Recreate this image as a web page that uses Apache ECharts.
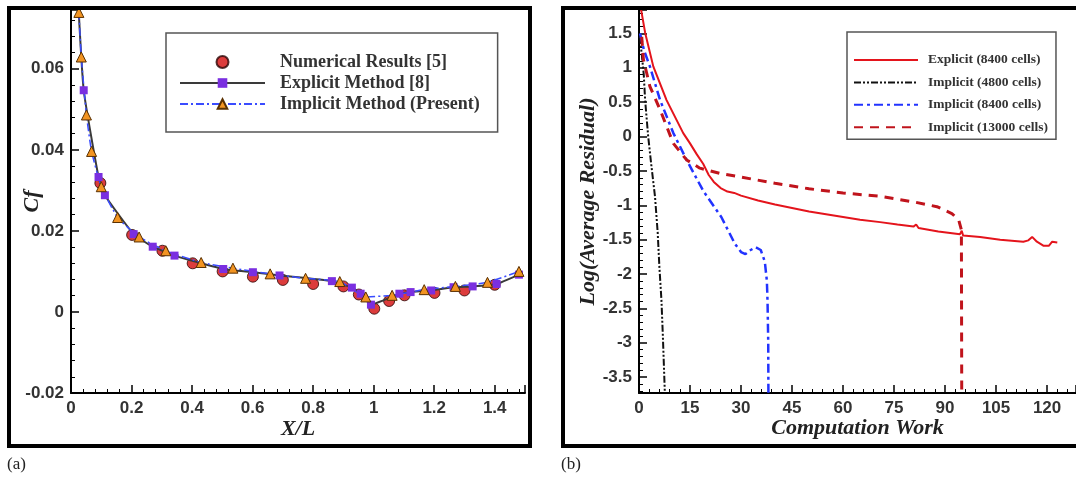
<!DOCTYPE html>
<html>
<head>
<meta charset="utf-8">
<script src="https://cdn.jsdelivr.net/npm/echarts@6.0.0/dist/echarts.min.js"></script>
<style>
html, body { margin: 0; padding: 0; background: #fff; }
#chart { width: 1076px; height: 479px; }
</style>
</head>
<body>
<div id="chart"></div>
<script>
// (a) skin friction along the wall
var numericalPts = [[0.097,0.0318],[0.202,0.019],[0.302,0.0151],[0.402,0.012],[0.501,0.010],[0.601,0.0087],[0.70,0.0079],[0.80,0.0069],[0.90,0.0063],[0.951,0.0043],[1.002,0.0008],[1.051,0.0027],[1.102,0.0041],[1.201,0.0047],[1.30,0.0053],[1.40,0.0067]];
var explicitHead = [0.022,0.079];
var explicitPts = [[0.042,0.0547],[0.091,0.0333],[0.112,0.0288],[0.207,0.0192],[0.27,0.0161],[0.342,0.0139],[0.503,0.0106],[0.601,0.0098],[0.689,0.009],[0.862,0.0076],[0.928,0.006],[0.957,0.0045],[0.991,0.0018],[1.085,0.0045],[1.122,0.0049],[1.19,0.0053],[1.264,0.0061],[1.327,0.0063],[1.406,0.0069],[1.48,0.0092]];
var implicitHead = [0.023,0.078];
var implicitPts = [[0.026,0.0739],[0.034,0.0629],[0.051,0.0486],[0.068,0.0396],[0.10,0.0309],[0.154,0.0233],[0.225,0.0185],[0.313,0.0151],[0.43,0.0122],[0.535,0.0108],[0.658,0.0094],[0.775,0.0083],[0.888,0.0075],[0.974,0.0037],[1.061,0.0041],[1.167,0.0055],[1.27,0.0063],[1.376,0.0073],[1.48,0.0100]];

// (b) convergence history
var explicit8400 = [[0.6,1.85],[1.8,1.51],[4.2,1.02],[8.1,0.53],[13,0.05],[15,-0.1],[17,-0.26],[18.9,-0.4],[20.5,-0.56],[22,-0.66],[24,-0.75],[26,-0.8],[28,-0.82],[30,-0.86],[35,-0.93],[40,-0.99],[45,-1.04],[50,-1.09],[55,-1.13],[60,-1.17],[65,-1.21],[70.9,-1.245],[76,-1.28],[80.7,-1.31],[81.5,-1.28],[82.2,-1.33],[88,-1.38],[94.4,-1.42],[94.9,-1.37],[95.3,-1.44],[100.3,-1.46],[106.2,-1.5],[113,-1.53],[114.5,-1.51],[115.6,-1.46],[117,-1.53],[119,-1.59],[120.5,-1.59],[121.5,-1.53],[123,-1.54]];
var implicit4800 = [[0.2,1.45],[0.8,1.2],[1.4,0.9],[1.8,0.53],[2.7,0.0],[3.7,-0.45],[4.7,-0.87],[5.5,-1.4],[6.0,-1.9],[6.6,-2.38],[7.0,-2.88],[7.3,-3.3],[7.6,-3.73]];
var implicit8400 = [[0.3,1.5],[1.5,1.25],[3.2,1.02],[6.2,0.53],[10.1,0.05],[14,-0.34],[19,-0.8],[24.2,-1.17],[28.2,-1.56],[30,-1.68],[31.3,-1.71],[32.5,-1.66],[34.3,-1.61],[35.8,-1.65],[37,-1.82],[37.6,-2.1],[37.8,-2.4],[38,-3.0],[38.05,-3.73]];
var implicit13000 = [[0.8,1.45],[1.3,1.12],[3.2,0.73],[6.2,0.39],[10.1,-0.1],[14,-0.34],[17.9,-0.46],[24,-0.54],[30,-0.59],[40,-0.68],[50,-0.76],[60,-0.82],[70.9,-0.87],[80.7,-0.95],[87.6,-1.02],[92,-1.12],[94,-1.21],[94.8,-1.36],[94.9,-3.73]];

var namesA = ['Numerical Results [5]', 'Explicit Method [8]', 'Implicit Method (Present)'];
var namesB = ['Explicit (8400 cells)', 'Implicit (4800 cells)', 'Implicit (8400 cells)', 'Implicit (13000 cells)'];

var chart = echarts.init(document.getElementById('chart'));

var tickFont = { fontFamily: 'Liberation Sans', fontWeight: 'bold', fontSize: 17, color: '#333' };
var nameFont = { fontFamily: 'Liberation Serif', fontStyle: 'italic', fontWeight: 'bold', fontSize: 22, color: '#222' };

// common look of the Tecplot-like axes
function axis(extra) {
	var base = {
		type: 'value',
		nameLocation: 'middle',
		nameMoveOverlap: false,
		nameTextStyle: nameFont,
		axisLine: { show: true, onZero: false, lineStyle: { color: '#000', width: 2 } },
		axisTick: { inside: true, length: 8, lineStyle: { color: '#000', width: 1.5 } },
		minorTick: { show: true, splitNumber: 5, length: 4, lineStyle: { color: '#000', width: 1 } },
		splitLine: { show: false },
		axisLabel: Object.assign({ margin: 7 }, tickFont)
	};
	for (var k in extra) {
		if (k === 'axisLabel') Object.assign(base.axisLabel, extra[k]);
		else base[k] = extra[k];
	}
	return base;
}

chart.setOption({
	backgroundColor: '#fff',
	animation: false,
	grid: [
		{ left: 71, top: 10, width: 454, height: 383 },
		{ left: 639, top: 10, width: 437, height: 383 }
	],
	xAxis: [
		axis({ gridIndex: 0, min: 0, max: 1.5, interval: 0.2, name: 'X/L', nameGap: 25, axisLabel: { showMaxLabel: false } }),
		axis({ gridIndex: 1, min: 0, max: 128.5, interval: 15, name: 'Computation Work', nameGap: 24, axisLabel: { showMaxLabel: false } })
	],
	yAxis: [
		axis({ gridIndex: 0, min: -0.02, max: 0.0745, interval: 0.02, name: 'Cf', nameGap: 28, axisLabel: { showMaxLabel: false } }),
		axis({ gridIndex: 1, min: -3.73, max: 1.84, minInterval: 0.5, maxInterval: 0.5, splitNumber: 11, name: 'Log(Average Residual)', nameGap: 40,
			axisLabel: { showMinLabel: false, showMaxLabel: false } })
	],
	legend: [
		{
			data: namesA, orient: 'vertical', left: 166, top: 33,
			itemWidth: 85, itemHeight: 12, itemGap: 3,
			padding: [20, 18, 19, 13],
			backgroundColor: '#fff', borderColor: '#555', borderWidth: 1.5,
			textStyle: { fontFamily: 'Liberation Serif', fontWeight: 'bold', fontSize: 18, color: '#333', padding: [0, 0, 0, 10] }
		},
		{
			data: namesB, orient: 'vertical', left: 847, top: 32,
			itemWidth: 64, itemHeight: 14, itemGap: 8.4,
			padding: [21, 8, 5, 6],
			backgroundColor: '#fff', borderColor: '#555', borderWidth: 1.5,
			itemStyle: { opacity: 0 },
			textStyle: { fontFamily: 'Liberation Serif', fontWeight: 'bold', fontSize: 13.5, color: '#333', padding: [0, 0, 0, 5] }
		}
	],
	series: [
		{
			name: namesA[0], type: 'scatter', xAxisIndex: 0, yAxisIndex: 0,
			symbol: 'circle', symbolSize: 11,
			itemStyle: { color: '#d30b0b', borderColor: '#2a0505', borderWidth: 1 },
			data: numericalPts
		},
		{
			name: namesA[1], type: 'line', xAxisIndex: 0, yAxisIndex: 0,
			smooth: 0.15, symbol: 'rect', symbolSize: 8, showAllSymbol: true,
			lineStyle: { color: '#3a3a3a', width: 2 },
			itemStyle: { color: '#7a2fe0' },
			data: [{ value: explicitHead, symbol: 'none' }].concat(explicitPts)
		},
		{
			name: namesA[2], type: 'line', xAxisIndex: 0, yAxisIndex: 0,
			smooth: 0.15, symbol: 'triangle', symbolSize: 10, showAllSymbol: true,
			lineStyle: { color: '#3a4cff', width: 1.5, type: [8, 3, 2, 3] },
			itemStyle: { color: '#f29422', borderColor: '#5a3000', borderWidth: 1 },
			data: [{ value: implicitHead, symbol: 'none' }].concat(implicitPts)
		},
		{
			name: namesB[0], type: 'line', xAxisIndex: 1, yAxisIndex: 1,
			showSymbol: false, symbol: 'none',
			lineStyle: { color: '#e4141c', width: 2 }, itemStyle: { color: '#e4141c' },
			data: explicit8400
		},
		{
			name: namesB[1], type: 'line', xAxisIndex: 1, yAxisIndex: 1,
			showSymbol: false, symbol: 'none',
			lineStyle: { color: '#111', width: 2, type: [7, 2, 2, 2, 2, 2] }, itemStyle: { color: '#111' },
			data: implicit4800
		},
		{
			name: namesB[2], type: 'line', xAxisIndex: 1, yAxisIndex: 1,
			showSymbol: false, symbol: 'none',
			lineStyle: { color: '#2233ff', width: 2.5, type: [9, 4, 3, 4] }, itemStyle: { color: '#2233ff' },
			data: implicit8400
		},
		{
			name: namesB[3], type: 'line', xAxisIndex: 1, yAxisIndex: 1,
			showSymbol: false, symbol: 'none',
			lineStyle: { color: '#c0141c', width: 3, type: [9, 7] }, itemStyle: { color: '#c0141c' },
			data: implicit13000
		}
	],
	graphic: [
		{ type: 'rect', z: 100, shape: { x: 9, y: 8, width: 521, height: 438 }, style: { fill: 'none', stroke: '#000', lineWidth: 4 } },
		{ type: 'rect', z: 100, shape: { x: 563, y: 8, width: 530, height: 438 }, style: { fill: 'none', stroke: '#000', lineWidth: 4 } },
		{ type: 'text', left: 7, top: 456, style: { text: '(a)', font: '17px "Liberation Serif"', fill: '#222' } },
		{ type: 'text', left: 561, top: 456, style: { text: '(b)', font: '17px "Liberation Serif"', fill: '#222' } }
	]
});
</script>
</body>
</html>
